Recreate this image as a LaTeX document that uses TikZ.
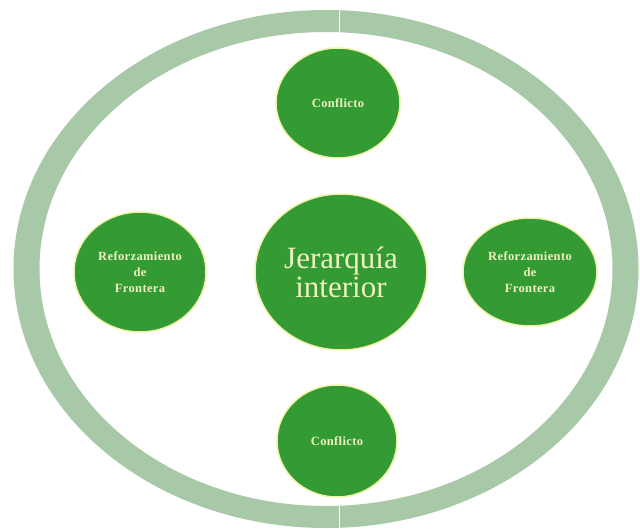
\documentclass[tikz,border=0pt]{standalone}
\usepackage{fontspec}
\setmainfont{Liberation Serif}
\usepackage{tikz}
\usetikzlibrary{shapes.geometric}

\definecolor{ringgreen}{RGB}{168,201,168}
\definecolor{leafgreen}{RGB}{52,155,52}
\definecolor{paleyellow}{RGB}{240,244,170}
\definecolor{creamtext}{RGB}{238,240,190}

\tikzset{
  bubble/.style={draw=paleyellow, line width=1.5pt, fill=leafgreen, ellipse,
    inner sep=0pt, align=center, text=creamtext,
    font=\bfseries\fontsize{12.5}{16}\selectfont\addfontfeature{LetterSpace=3}},
  bigbubble/.style={bubble, font=\fontsize{31}{29}\selectfont}
}

\begin{document}
\begin{tikzpicture}[x=1pt, y=-1pt, node distance=169pt]
    \useasboundingbox (0,0) rectangle (640,529);
    \fill[white] (0,0) rectangle (640,529);

    % outer ring, split in two halves
    \fill[ringgreen, even odd rule] (326,269) ellipse [x radius=312.5pt, y radius=259pt]
                                    (326,269) ellipse [x radius=286.5pt, y radius=237pt];
    \draw[white, line width=0.8pt] (339,6) -- (339,36);
    \draw[white, line width=0.8pt] (339,504) -- (339,529);

    \node[bigbubble, minimum width=172pt, minimum height=156pt] (jer) at (341,272) {Jerarqu\'ia\\interior};
    \node[bubble, minimum width=124pt, minimum height=110pt] (conftop) [above of=jer, xshift=-3pt] {Conflicto};
    \node[bubble, minimum width=120pt, minimum height=112pt] (confbot) [below of=jer, xshift=-4pt] {Conflicto};
    \node[bubble, minimum width=132pt, minimum height=120pt] (refleft) [left of=jer, node distance=201pt] {Reforzamiento\\de\\Frontera};
    \node[bubble, minimum width=134pt, minimum height=108pt] (refright) [right of=jer, node distance=189pt] {Reforzamiento\\de\\Frontera};
\end{tikzpicture}
\end{document}
